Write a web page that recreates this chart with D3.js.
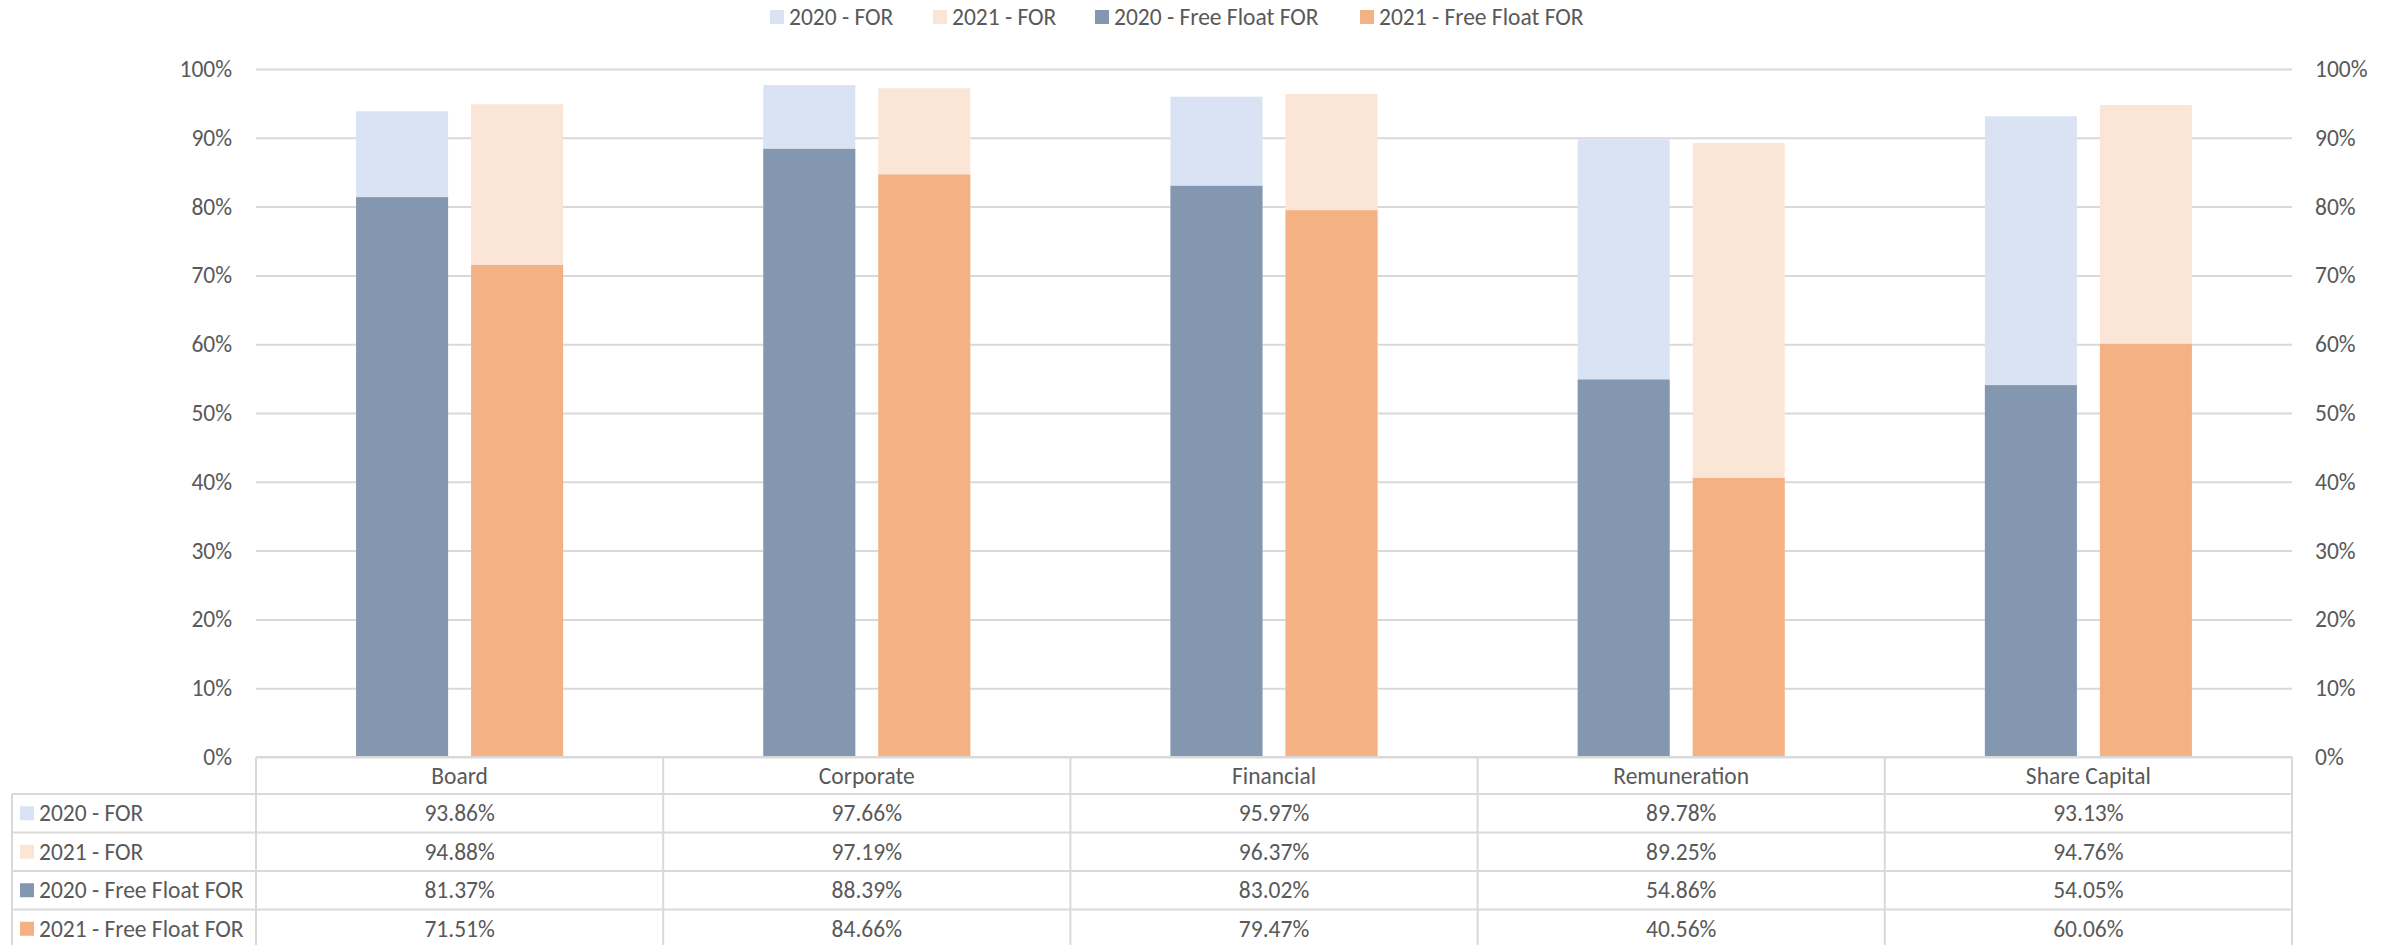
<!DOCTYPE html>
<html>
<head>
<meta charset="utf-8">
<script src="https://cdnjs.cloudflare.com/ajax/libs/d3/7.8.5/d3.min.js"></script>
<style>
  body { margin: 0; background: #fff; }
  svg text { font-family: Carlito, Lato, "Noto Sans", sans-serif; fill: #595959; }
</style>
</head>
<body>
<svg id="chart" width="2397" height="945"></svg>
<script>
// data
var categories = ["Board", "Corporate", "Financial", "Remuneration", "Share Capital"];
var seriesNames = ["2020 - FOR", "2021 - FOR", "2020 - Free Float FOR", "2021 - Free Float FOR"];
var for2020 = [0.9386, 0.9766, 0.9597, 0.8978, 0.9313];
var for2021 = [0.9488, 0.9719, 0.9637, 0.8925, 0.9476];
var ff2020 = [0.8137, 0.8839, 0.8302, 0.5486, 0.5405];
var ff2021 = [0.7151, 0.8466, 0.7947, 0.4056, 0.6006];
var yTicks = [0, 0.1, 0.2, 0.3, 0.4, 0.5, 0.6, 0.7, 0.8, 0.9, 1];

var colors = ["#dae3f3", "#fbe5d6", "#8497b0", "#f4b183"];
var seriesValues = [for2020, for2021, ff2020, ff2021];
var seriesYear = ["2020", "2021", "2020", "2021"];
var fontSize = "23.5px";

var svg = d3.select("#chart"),
    plotLeft = 256, plotRight = 2292, plotTop = 69, plotBottom = 757;

var x = d3.scaleBand().domain(categories).range([plotLeft, plotRight]);
var xs = d3.scaleBand().domain(["2020", "2021"]).range([0, x.bandwidth()])
    .paddingInner(0.2).paddingOuter(0.87);
var y = d3.scaleLinear().domain([0, 1]).range([plotBottom, plotTop]);
var pct = d3.format(".0%");
var pct2 = d3.format(".2%");

// gridlines
svg.append("g")
    .attr("transform", "translate(" + plotLeft + ",0)")
    .call(d3.axisLeft(y).tickValues(yTicks).tickSize(-(plotRight - plotLeft)).tickFormat(""))
    .call(function(g) { g.select(".domain").remove(); })
    .selectAll("line")
      .attr("stroke", "#d9d9d9")
      .attr("stroke-width", 2);

// left and right axis labels
svg.append("g")
    .attr("transform", "translate(" + plotLeft + ",0)")
    .call(d3.axisLeft(y).tickValues(yTicks).tickSize(0).tickPadding(24).tickFormat(pct))
    .call(function(g) { g.select(".domain").remove(); })
    .selectAll("text")
      .style("font-size", fontSize);

svg.append("g")
    .attr("transform", "translate(" + plotRight + ",0)")
    .call(d3.axisRight(y).tickValues(yTicks).tickSize(0).tickPadding(23).tickFormat(pct))
    .call(function(g) { g.select(".domain").remove(); })
    .selectAll("text")
      .style("font-size", fontSize);

svg.selectAll(".tick text").attr("fill", "#595959");

// bars: FOR behind, free float overlaid on top
seriesValues.forEach(function(vals, s) {
  svg.append("g")
    .selectAll("rect")
    .data(vals)
    .enter().append("rect")
      .attr("x", function(d, i) { return x(categories[i]) + xs(seriesYear[s]); })
      .attr("y", function(d) { return y(d); })
      .attr("width", xs.bandwidth())
      .attr("height", function(d) { return y(0) - y(d); })
      .attr("fill", colors[s]);
});

// data table
var tableLeft = 12, headerTop = 757, headerH = 37, rowH = 38.5;
var table = svg.append("g");
var lineColor = "#d9d9d9";

function hline(x1, x2, yy) {
  table.append("line").attr("x1", x1).attr("x2", x2).attr("y1", yy).attr("y2", yy)
    .attr("stroke", lineColor).attr("stroke-width", 2);
}
function vline(xx, y1, y2) {
  table.append("line").attr("x1", xx).attr("x2", xx).attr("y1", y1).attr("y2", y2)
    .attr("stroke", lineColor).attr("stroke-width", 2);
}

var rowTop = function(r) { return headerTop + headerH + r * rowH; };
var tableBottom = rowTop(4);

hline(plotLeft, plotRight, headerTop);
for (var r = 0; r <= 4; r++) hline(tableLeft, plotRight, rowTop(r));
vline(tableLeft, rowTop(0), tableBottom);
categories.forEach(function(c) { vline(x(c), headerTop, tableBottom); });
vline(plotRight, headerTop, tableBottom);

table.selectAll(".hdr")
  .data(categories)
  .enter().append("text")
    .attr("x", function(d) { return x(d) + x.bandwidth() / 2; })
    .attr("y", headerTop + headerH / 2)
    .attr("dy", "0.35em")
    .attr("text-anchor", "middle")
    .style("font-size", fontSize)
    .text(function(d) { return d; });

seriesNames.forEach(function(name, s) {
  var cy = rowTop(s) + rowH / 2;
  table.append("rect")
    .attr("x", 20).attr("y", cy - 7).attr("width", 14).attr("height", 14)
    .attr("fill", colors[s]);
  table.append("text")
    .attr("x", 39).attr("y", cy).attr("dy", "0.35em")
    .style("font-size", fontSize)
    .text(name);
  table.append("g").selectAll("text")
    .data(seriesValues[s])
    .enter().append("text")
      .attr("x", function(d, i) { return x(categories[i]) + x.bandwidth() / 2; })
      .attr("y", cy)
      .attr("dy", "0.35em")
      .attr("text-anchor", "middle")
      .style("font-size", fontSize)
      .text(function(d) { return pct2(d); });
});

// legend
var legendX = [770, 933, 1095, 1360];
var legend = svg.append("g").selectAll("g")
  .data(seriesNames)
  .enter().append("g")
    .attr("transform", function(d, i) { return "translate(" + legendX[i] + ",17)"; });
legend.append("rect")
  .attr("x", 0).attr("y", -7).attr("width", 14).attr("height", 14)
  .attr("fill", function(d, i) { return colors[i]; });
legend.append("text")
  .attr("x", 19).attr("dy", "0.35em")
  .style("font-size", fontSize)
  .text(function(d) { return d; });
</script>
</body>
</html>
